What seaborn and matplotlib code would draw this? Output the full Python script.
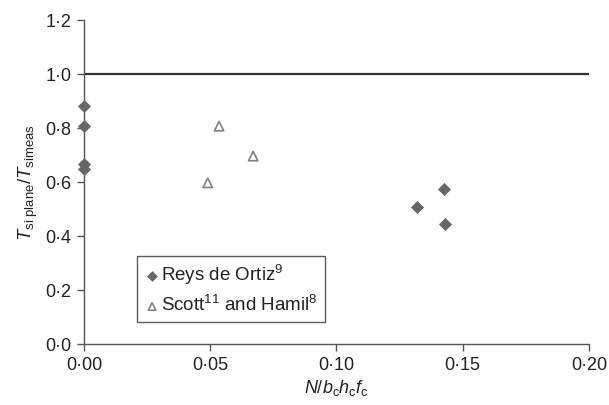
import matplotlib
matplotlib.use("Agg")
import matplotlib.pyplot as plt
import seaborn as sns
import pandas as pd

# Data
reys_x = [0.0, 0.0, 0.0, 0.0, 0.1425, 0.1318, 0.1430]
reys_y = [0.881, 0.807, 0.667, 0.649, 0.573, 0.508, 0.446]
scott_x = [0.0535, 0.0670, 0.0490]
scott_y = [0.807, 0.696, 0.597]
x_ticks = [0.0, 0.05, 0.10, 0.15, 0.20]
x_ticklabels = ["0\u00b700", "0\u00b705", "0\u00b710", "0\u00b715", "0\u00b720"]
y_ticks = [0.0, 0.2, 0.4, 0.6, 0.8, 1.0, 1.2]
y_ticklabels = ["0\u00b70", "0\u00b72", "0\u00b74", "0\u00b76", "0\u00b78", "1\u00b70", "1\u00b72"]
ref_line = 1.0

sns.set_theme(style="white")
plt.rcParams["font.family"] = ["Liberation Sans", "DejaVu Sans"]
plt.rcParams["mathtext.fontset"] = "custom"
plt.rcParams["mathtext.rm"] = "Liberation Sans"
plt.rcParams["mathtext.it"] = "Liberation Sans:italic"
plt.rcParams["mathtext.bf"] = "Liberation Sans:bold"

fig = plt.figure(figsize=(6.09, 4.05), dpi=100)
ax = fig.add_axes([0.138, 0.1506, 0.829, 0.80])

df_r = pd.DataFrame({"x": reys_x, "y": reys_y})
df_s = pd.DataFrame({"x": scott_x, "y": scott_y})

ax.axhline(ref_line, color="#333333", lw=1.6, zorder=1)

sns.scatterplot(data=df_r, x="x", y="y", ax=ax, marker="D", s=38,
                color="#666666", edgecolor="#666666", linewidth=0.5,
                label="Reys de Ortiz$^{9}$", zorder=3, clip_on=False)
sns.scatterplot(data=df_s, x="x", y="y", ax=ax, marker="^", s=45,
                facecolor="none", edgecolor="#808080", linewidth=1.2,
                label="Scott$^{11}$ and Hamil$^{8}$", zorder=3, clip_on=False)

ax.set_xlim(0, 0.20)
ax.set_ylim(0, 1.2)
ax.set_xticks(x_ticks)
ax.set_xticklabels(x_ticklabels)
ax.set_yticks(y_ticks)
ax.set_yticklabels(y_ticklabels)

for side in ["top", "right"]:
    ax.spines[side].set_visible(False)
for side in ["left", "bottom"]:
    ax.spines[side].set_color("#555555")
    ax.spines[side].set_linewidth(1.0)

ax.tick_params(axis="both", which="both", direction="out", length=5,
               width=1.0, color="#555555", labelsize=13, labelcolor="#222222",
               left=True, bottom=True, pad=4)

ax.set_xlabel(r"$N/b_{\rm c}h_{\rm c}f_{\rm c}$", fontsize=13, color="#222222", labelpad=3)
ax.set_ylabel(r"$T_{\rm si\ plane}/T_{\rm simeas}$", fontsize=13.5, color="#222222", labelpad=4)

leg = ax.legend(loc="lower left", bbox_to_anchor=(0.105, 0.068), borderaxespad=0,
                fontsize=13.5, frameon=True, fancybox=False, handletextpad=0.05,
                handlelength=0.9, borderpad=0.35, labelspacing=0.45, markerscale=0.8)
leg.get_frame().set_edgecolor("#333333")
leg.get_frame().set_linewidth(1.0)
for t in leg.get_texts():
    t.set_color("#222222")

fig.savefig("out.png", dpi=100)
